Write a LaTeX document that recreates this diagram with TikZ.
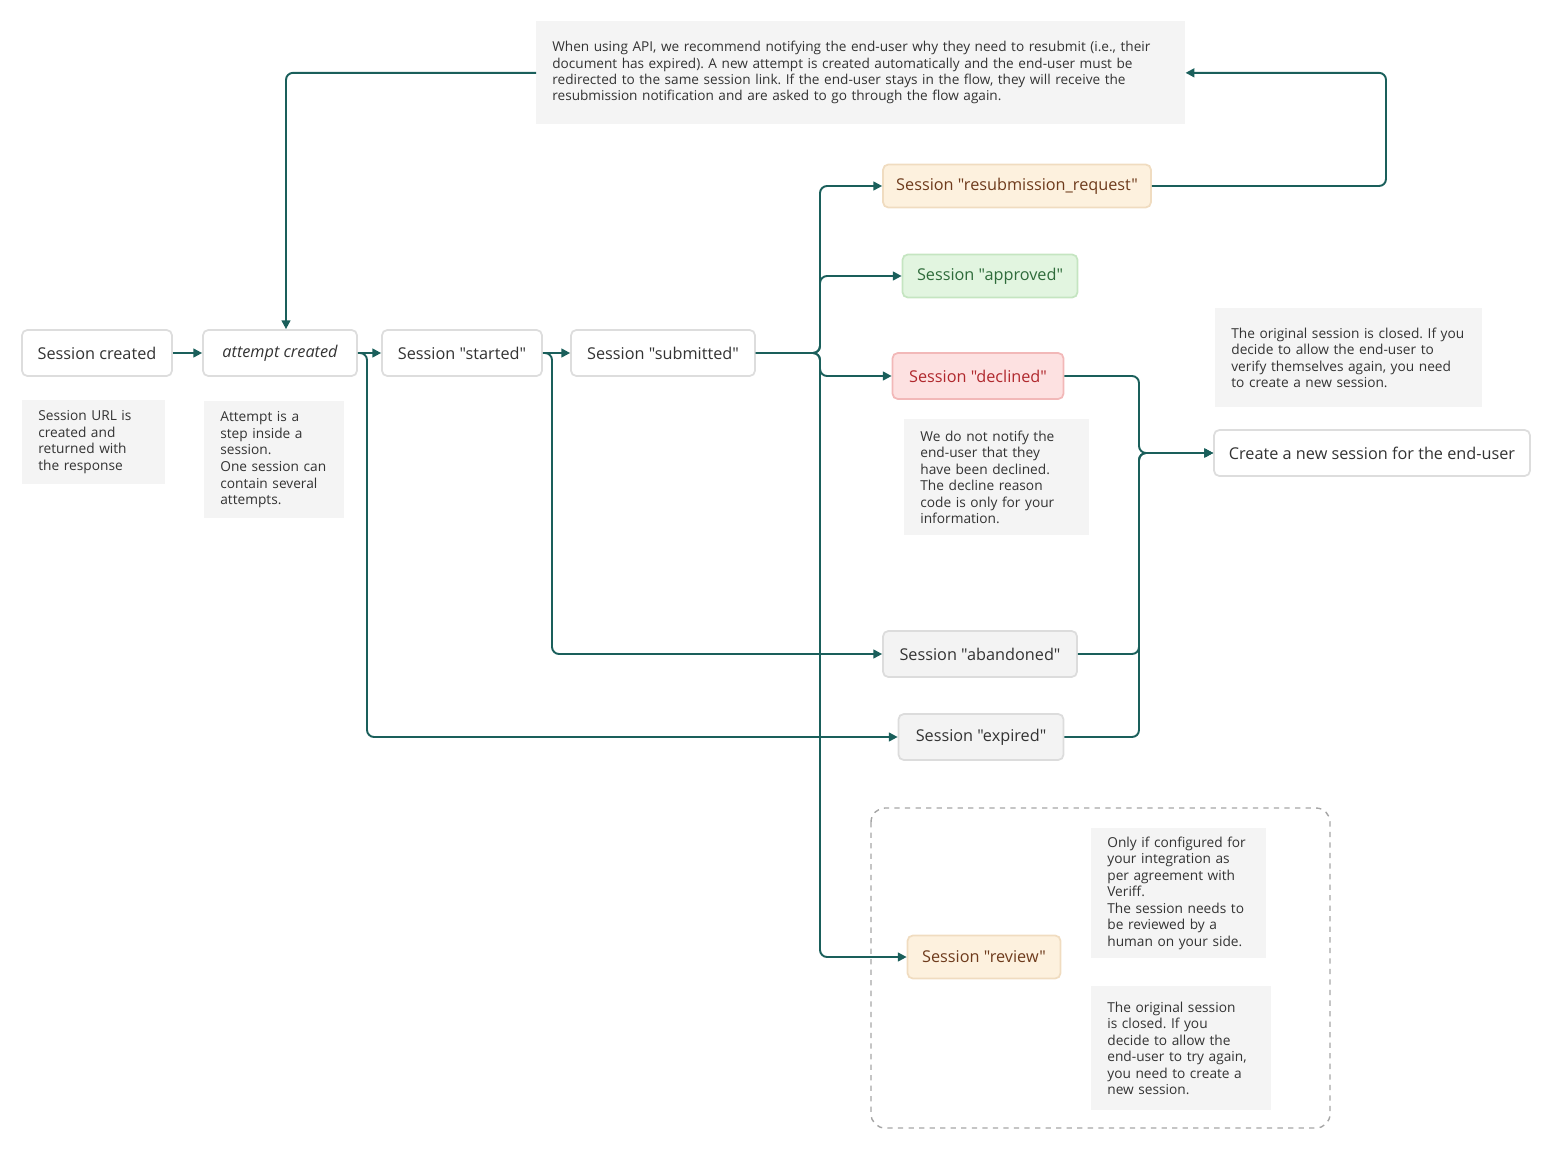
\documentclass[tikz,border=0pt]{standalone}
\usepackage{fontspec}
\defaultfontfeatures[\rmfamily]{}
\setmainfont{Open Sans}
\usetikzlibrary{arrows.meta}
\frenchspacing
\definecolor{link}{HTML}{1A5F5B}
\definecolor{txt}{HTML}{333333}
\definecolor{boxline}{HTML}{DDDDDD}
\definecolor{notefill}{HTML}{F4F4F4}
\definecolor{orfill}{HTML}{FDF1DE}
\definecolor{orline}{HTML}{F0DCC0}
\definecolor{ortext}{HTML}{6E3B1C}
\definecolor{grfill}{HTML}{E2F5E0}
\definecolor{grline}{HTML}{C5E5C1}
\definecolor{grtext}{HTML}{2E6B3A}
\definecolor{rdfill}{HTML}{FDE1E1}
\definecolor{rdline}{HTML}{F2B8B8}
\definecolor{rdtext}{HTML}{B0282D}
\definecolor{gyfill}{HTML}{F3F3F3}
\definecolor{gyline}{HTML}{DCDCDC}
\tikzset{state/.style={draw=boxline, fill=white, line width=1pt, rounded corners=3pt, text=txt, font=\fontsize{9.25}{11}\selectfont, minimum height=0.92cm, inner xsep=1pt},
  orange/.style={state, fill=orfill, draw=orline, text=ortext},
  green/.style={state, fill=grfill, draw=grline, text=grtext},
  red/.style={state, fill=rdfill, draw=rdline, text=rdtext},
  grey/.style={state, fill=gyfill, draw=gyline},
  note/.style={fill=notefill, text=txt, align=left, anchor=north west, inner xsep=0.32cm, inner ysep=0pt, font=\fontsize{7.8}{9.4}\selectfont},
  arr/.style={link, line width=1.1pt, rounded corners=4pt, -{Triangle[length=5pt,width=5pt]}}}
\begin{document}
\begin{tikzpicture}[x=0.02cm,y=-0.02cm]
  \useasboundingbox (0,0) rectangle (1551,1149);
  % main line
  \node[state, minimum width=3cm]   (sc)  at ( 97,353) {Session created};
  \node[state, minimum width=3.08cm,font=\fontsize{9.25}{11}\selectfont\itshape] (ac)  at (280,353) {attempt created};
  \node[state, minimum width=3.2cm] (st)  at (462,353) {Session "started"};
  \node[state, minimum width=3.68cm] (su) at (663,353) {Session "submitted"};
  % outcomes
  \node[orange, minimum width=5.36cm, minimum height=0.86cm] (rs) at (1017,186) {Session "resubmission\_request"};
  \node[green,  minimum width=3.5cm,  minimum height=0.86cm] (ap) at ( 990,276) {Session "approved"};
  \node[red,    minimum width=3.42cm] (de) at ( 978,376) {Session "declined"};
  \node[grey,   minimum width=3.88cm] (ab) at ( 980,654) {Session "abandoned"};
  \node[grey,   minimum width=3.3cm] (ex) at ( 981,737) {Session "expired"};
  \node[orange, minimum width=3.06cm, minimum height=0.86cm] (rv) at ( 984,957) {Session "review"};
  \node[state,  minimum width=6.32cm] (ns) at (1372,453) {Create a new session for the end-user};
  % notes
  \node[note, text width=2.22cm, minimum height=1.68cm] (n1) at (22,400) {Session URL is\\created and\\returned with\\the response};
  \node[note, text width=2.16cm, minimum height=2.34cm] (n2) at (204,401) {Attempt is a\\step inside a\\session.\\One session can\\contain several\\attempts.};
  \node[note, text width=12.34cm, minimum height=2.06cm, font=\fontsize{7.75}{9.3}\selectfont] (tn) at (536,21)
    {When using API, we recommend notifying the end-user why they need to resubmit (i.e., their\\document has expired). A new attempt is created automatically and the end-user must be\\redirected to the same session link. If the end-user stays in the flow, they will receive the\\resubmission notification and are asked to go through the flow again.};
  \node[note, text width=3.06cm, minimum height=2.32cm] (n3) at (904,419) {We do not notify the\\end-user that they\\have been declined.\\The decline reason\\code is only for your\\information.};
  \node[note, text width=4.7cm, minimum height=1.98cm] (n4) at (1215,308) {The original session is closed. If you\\decide to allow the end-user to\\verify themselves again, you need\\to create a new session.};
  \node[note, text width=2.86cm, minimum height=2.6cm] (n5) at (1091,828) {Only if configured for\\your integration as\\per agreement with\\Veriff.\\The session needs to\\be reviewed by a\\human on your side.};
  \node[note, text width=2.95cm, minimum height=2.48cm] (n6) at (1091,986) {The original session\\is closed. If you\\decide to allow the\\end-user to try again,\\you need to create a\\new session.};
  \draw[gray!70, dashed, line width=0.8pt, rounded corners=8pt] (871,808) rectangle (1330,1128);
  % junctions
  \coordinate (j1) at (367,353);
  \coordinate (j2) at (552,353);
  \coordinate (j3) at (820,353);
  \coordinate (j4) at (1139,453);
  \coordinate (j5) at (1386,186);
  % connectors
  \draw[arr] (sc) -- (ac);
  \draw[arr] (ac) -- (st);
  \draw[arr] (st) -- (su);
  \draw[arr] (ac.east) -- (j1) |- (ex);
  \draw[arr] (st.east) -- (j2) |- (ab);
  \draw[arr] (su.east) -- (j3) |- (rs);
  \draw[arr] (su.east) -- (j3) |- (ap);
  \draw[arr] (su.east) -- (j3) |- (de);
  \draw[arr] (su.east) -- (j3) |- (rv);
  \draw[arr] (de.east) -| (j4) -- (ns);
  \draw[arr] (ab.east) -| (j4) -- (ns);
  \draw[arr] (ex.east) -| (j4) -- (ns);
  \draw[arr] (rs.east) -- (j5) |- (tn.east);
  \draw[arr] (tn.west) -| ([xshift=0.12cm]ac.north);
\end{tikzpicture}
\end{document}
